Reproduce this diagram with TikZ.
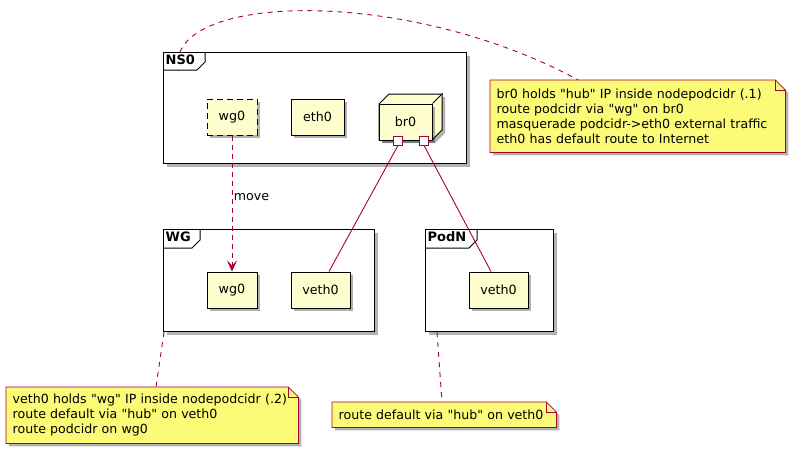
\documentclass[tikz,border=0pt]{standalone}
\usepackage{fontspec}
\newfontfamily\dejavu{DejaVu Sans}
\usetikzlibrary{arrows.meta,positioning,shadows,backgrounds}
\definecolor{plum}{HTML}{A80036}
\definecolor{cream}{HTML}{FEFECE}
\definecolor{notey}{HTML}{FBFB77}

\begin{document}
\begin{tikzpicture}[x=1pt,y=-1pt,
 shade/.style={drop shadow={shadow xshift=3pt,shadow yshift=-3pt,opacity=0.3,fill=black}},
 frame/.style={draw,line width=1.2pt,fill=white,anchor=north west,inner sep=0pt,
 minimum height=102pt,shade},
 tab/.style={anchor=north west,inner sep=2.5pt,font=\dejavu\bfseries\fontsize{13}{15}\selectfont},
 iface/.style={draw,line width=1pt,fill=cream,minimum height=36pt,inner sep=0pt,
 font=\dejavu\fontsize{12.7}{15}\selectfont,shade},
 note/.style={anchor=north west,align=left,inner xsep=6.5pt,inner ysep=0pt,
 font=\dejavu\fontsize{12.6}{15}\selectfont},
 notebox/.style={draw=plum,line width=0.8pt,fill=notey,shade},
 port/.style={draw=plum,fill=white,line width=0.9pt,minimum size=9pt,inner sep=0pt},
 link/.style={plum,line width=0.9pt},
 tie/.style={plum,line width=0.9pt,dash pattern=on 5pt off 5pt},
 move/.style={plum,line width=0.9pt,dash pattern=on 5pt off 4pt,
 -{Stealth[length=11pt,width=10pt,inset=5pt]}}]
\useasboundingbox (0,0) rectangle (795,453);

% namespace frames
\node[frame,minimum width=303pt,minimum height=111pt] (NS0) at (163,52) {};
\node[frame,minimum width=211pt] (WG) at (163,229) {};
\node[frame,minimum width=128pt] (PodN) at (425,229) {};
\node[tab] (NS0tab) at (NS0.north west) {NS0};
\node[tab] (WGtab) at (WG.north west) {WG};
\node[tab] (PodNtab) at (PodN.north west) {PodN};
\draw[line width=1pt] (NS0.north west) ++(0,18) -- ++(34,0) -- ++(8,-8) -- ++(0,-10);
\draw[line width=1pt] (WG.north west) ++(0,19) -- ++(29,0) -- ++(8,-8) -- ++(0,-11);
\draw[line width=1pt] (PodN.north west) ++(0,19) -- ++(44,0) -- ++(8,-8) -- ++(0,-11);

% interfaces
\node[iface,minimum width=50pt,dash pattern=on 6pt off 4pt] (wgNS) at (232,117) {wg0};
\node[iface,minimum width=53pt] (eth0) at (317.5,117) {eth0};
\coordinate (br0pos) at (405.5,122);
\filldraw[line width=1pt,fill=cream,shade,shift={(br0pos)}]
 (-26.5,-18) -- (-16.5,-28) -- (36.5,-28) -- (36.5,8) -- (26.5,18) -- (-26.5,18) -- cycle;
\node[iface,minimum width=53pt,drop shadow={opacity=0}] (br0) at (br0pos) {br0};
\draw[line width=1pt] (br0.north east) -- ++(10,-10);
\node[port] (p1) at ([xshift=-7.5pt]br0.south) {};
\node[port] (p2) at ([xshift=18.5pt]br0.south) {};

\node[iface,minimum width=50pt] (wgWG) at (232,290) {wg0};
\node[iface,minimum width=59pt] (vethWG) at (320.5,290) {veth0};
\node[iface,minimum width=59pt] (vethPod) at (498.5,290) {veth0};

\draw[link] (p1.south) -- ([xshift=8.5pt]vethWG.north);
\draw[link] (p2.south) -- ([xshift=-7.5pt]vethPod.north);
\draw[move] (wgNS) -- node[pos=0.45,anchor=west,inner sep=1.5pt,text=black,
 font=\dejavu\fontsize{12.6}{15}\selectfont] (movelbl) {move} (wgWG);

% notes
\node[note,text width=282pt,minimum height=72pt] (noteNS0) at (490,80)
 {br0 holds "hub" IP inside nodepodcidr (.1)\\route podcidr via "wg" on br0\\
 masquerade podcidr->eth0 external traffic\\eth0 has default route to Internet};
\node[note,text width=279pt,minimum height=56pt] (noteWG) at (6,387)
 {veth0 holds "wg" IP inside nodepodcidr (.2)\\route default via "hub" on veth0\\
 route podcidr on wg0};
\node[note,text width=211pt,minimum height=25pt] (notePod) at (332,402)
 {route default via "hub" on veth0};
\begin{scope}[on background layer]
\foreach \n in {noteNS0,noteWG,notePod} {
 \filldraw[notebox] (\n.south west) -- (\n.north west) -- ([xshift=-10pt]\n.north east)
 -- ([yshift=-10pt]\n.north east) -- (\n.south east) -- cycle;
 \draw[plum,line width=0.8pt] ([xshift=-10pt]\n.north east) |- ([yshift=-10pt]\n.north east);
}
\end{scope}
\draw[tie] ([xshift=17pt]NS0.north west) .. controls (205,-8) and (420,-6) .. ([xshift=-59.5pt]noteNS0.north);
\draw[tie] ([xshift=1pt]WG.south west) -- ([xshift=150pt]noteWG.north west);
\draw[tie] ([xshift=12pt]PodN.south west) -- ([xshift=110pt]notePod.north west);
\end{tikzpicture}
\end{document}
